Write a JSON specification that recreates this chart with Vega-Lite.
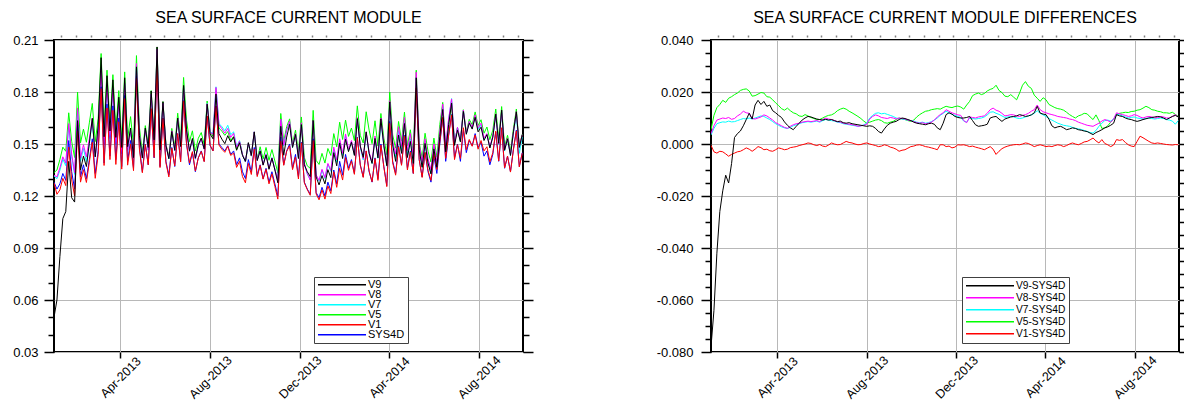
{
"$schema": "https://vega.github.io/schema/vega-lite/v6.json",
"background": "white",
"padding": {"left": 11, "top": 9, "right": 0, "bottom": 0},
"spacing": 120,
"resolve": {"scale": {"color": "independent"}, "legend": {"color": "independent"}},
"config": {
  "font": "Liberation Sans",
  "view": {"stroke": "black", "strokeWidth": 2},
  "axis": {"domain": false, "labelColor": "black", "tickColor": "black", "gridColor": "#b8b8b8", "gridWidth": 1},
  "title": {"fontSize": 16, "fontWeight": "normal", "color": "black", "anchor": "middle", "frame": "group", "offset": 8}
},
"datasets": {"main": [
{"date":"2013-01-01","V9":0.05,"V8":0.132,"V7":0.1315,"V5":0.1335,"V1":0.1275,"SYS4D":0.128,"D9":-0.078,"D8":0.004,"D7":0.0035,"D5":0.0055,"D1":-0.0005},
{"date":"2013-01-05","V9":0.06,"V8":0.131,"V7":0.13,"V5":0.135,"V1":0.121,"SYS4D":0.124,"D9":-0.064,"D8":0.007,"D7":0.006,"D5":0.011,"D1":-0.003},
{"date":"2013-01-09","V9":0.085,"V8":0.1362,"V7":0.1348,"V5":0.141,"V1":0.1235,"SYS4D":0.127,"D9":-0.042,"D8":0.0092,"D7":0.0078,"D5":0.014,"D1":-0.0035},
{"date":"2013-01-13","V9":0.107,"V8":0.1426,"V7":0.1412,"V5":0.1482,"V1":0.1302,"SYS4D":0.133,"D9":-0.026,"D8":0.0096,"D7":0.0082,"D5":0.0152,"D1":-0.0028},
{"date":"2013-01-17","V9":0.111,"V8":0.139,"V7":0.1375,"V5":0.1458,"V1":0.126,"SYS4D":0.129,"D9":-0.018,"D8":0.01,"D7":0.0085,"D5":0.0168,"D1":-0.003},
{"date":"2013-01-21","V9":0.14,"V8":0.1618,"V7":0.1604,"V5":0.168,"V1":0.1482,"SYS4D":0.152,"D9":-0.012,"D8":0.0098,"D7":0.0084,"D5":0.016,"D1":-0.0038},
{"date":"2013-01-25","V9":0.119,"V8":0.1442,"V7":0.1428,"V5":0.1516,"V1":0.1293,"SYS4D":0.134,"D9":-0.015,"D8":0.0102,"D7":0.0088,"D5":0.0176,"D1":-0.0047},
{"date":"2013-01-29","V9":0.1165,"V8":0.1335,"V7":0.1325,"V5":0.1422,"V1":0.12,"SYS4D":0.124,"D9":-0.0075,"D8":0.0095,"D7":0.0085,"D5":0.0182,"D1":-0.004},
{"date":"2013-02-02","V9":0.1635,"V8":0.1708,"V7":0.1696,"V5":0.18,"V1":0.1575,"SYS4D":0.161,"D9":0.0025,"D8":0.0098,"D7":0.0086,"D5":0.019,"D1":-0.0035},
{"date":"2013-02-06","V9":0.135,"V8":0.1418,"V7":0.14,"V5":0.1506,"V1":0.128,"SYS4D":0.131,"D9":0.004,"D8":0.0108,"D7":0.009,"D5":0.0196,"D1":-0.003},
{"date":"2013-02-10","V9":0.143,"V8":0.1495,"V7":0.1474,"V5":0.1586,"V1":0.1352,"SYS4D":0.138,"D9":0.005,"D8":0.0115,"D7":0.0094,"D5":0.0206,"D1":-0.0028},
{"date":"2013-02-14","V9":0.137,"V8":0.1426,"V7":0.1398,"V5":0.151,"V1":0.1278,"SYS4D":0.13,"D9":0.007,"D8":0.0126,"D7":0.0098,"D5":0.021,"D1":-0.0022},
{"date":"2013-02-18","V9":0.1504,"V8":0.153,"V7":0.1506,"V5":0.1622,"V1":0.1395,"SYS4D":0.141,"D9":0.0094,"D8":0.012,"D7":0.0096,"D5":0.0212,"D1":-0.0015},
{"date":"2013-02-22","V9":0.1648,"V8":0.1648,"V7":0.163,"V5":0.1734,"V1":0.151,"SYS4D":0.153,"D9":0.0118,"D8":0.0118,"D7":0.01,"D5":0.0204,"D1":-0.002},
{"date":"2013-02-26","V9":0.1426,"V8":0.1428,"V7":0.1426,"V5":0.1514,"V1":0.1302,"SYS4D":0.133,"D9":0.0096,"D8":0.0098,"D7":0.0096,"D5":0.0184,"D1":-0.0028},
{"date":"2013-03-02","V9":0.161,"V8":0.1556,"V7":0.156,"V5":0.1646,"V1":0.144,"SYS4D":0.146,"D9":0.015,"D8":0.0096,"D7":0.01,"D5":0.0186,"D1":-0.002},
{"date":"2013-03-06","V9":0.1998,"V8":0.193,"V7":0.1934,"V5":0.2022,"V1":0.182,"SYS4D":0.183,"D9":0.0168,"D8":0.01,"D7":0.0104,"D5":0.0192,"D1":-0.001},
{"date":"2013-03-10","V9":0.1542,"V8":0.1494,"V7":0.1498,"V5":0.1588,"V1":0.1376,"SYS4D":0.139,"D9":0.0152,"D8":0.0104,"D7":0.0108,"D5":0.0198,"D1":-0.0014},
{"date":"2013-03-14","V9":0.1894,"V8":0.1842,"V7":0.1836,"V5":0.1926,"V1":0.1708,"SYS4D":0.173,"D9":0.0164,"D8":0.0112,"D7":0.0106,"D5":0.0196,"D1":-0.0022},
{"date":"2013-03-18","V9":0.1575,"V8":0.1538,"V7":0.153,"V5":0.1612,"V1":0.141,"SYS4D":0.143,"D9":0.0145,"D8":0.0108,"D7":0.01,"D5":0.0182,"D1":-0.002},
{"date":"2013-03-22","V9":0.187,"V8":0.182,"V7":0.1814,"V5":0.19,"V1":0.1694,"SYS4D":0.172,"D9":0.015,"D8":0.01,"D7":0.0094,"D5":0.018,"D1":-0.0026},
{"date":"2013-03-26","V9":0.1538,"V8":0.1502,"V7":0.1496,"V5":0.158,"V1":0.1382,"SYS4D":0.141,"D9":0.0128,"D8":0.0092,"D7":0.0086,"D5":0.017,"D1":-0.0028},
{"date":"2013-03-30","V9":0.177,"V8":0.1732,"V7":0.1728,"V5":0.1808,"V1":0.1628,"SYS4D":0.165,"D9":0.012,"D8":0.0082,"D7":0.0078,"D5":0.0158,"D1":-0.0022},
{"date":"2013-04-03","V9":0.148,"V8":0.1446,"V7":0.1442,"V5":0.1518,"V1":0.1355,"SYS4D":0.137,"D9":0.011,"D8":0.0076,"D7":0.0072,"D5":0.0148,"D1":-0.0015},
{"date":"2013-04-07","V9":0.1882,"V8":0.185,"V7":0.1846,"V5":0.1916,"V1":0.1762,"SYS4D":0.178,"D9":0.0102,"D8":0.007,"D7":0.0066,"D5":0.0136,"D1":-0.0018},
{"date":"2013-04-11","V9":0.1485,"V8":0.1464,"V7":0.1462,"V5":0.153,"V1":0.1378,"SYS4D":0.14,"D9":0.0085,"D8":0.0064,"D7":0.0062,"D5":0.013,"D1":-0.0022},
{"date":"2013-04-15","V9":0.1592,"V8":0.158,"V7":0.158,"V5":0.1658,"V1":0.15,"SYS4D":0.152,"D9":0.0072,"D8":0.006,"D7":0.006,"D5":0.0138,"D1":-0.002},
{"date":"2013-04-19","V9":0.1422,"V8":0.1428,"V7":0.1424,"V5":0.1488,"V1":0.1346,"SYS4D":0.136,"D9":0.0062,"D8":0.0068,"D7":0.0064,"D5":0.0128,"D1":-0.0014},
{"date":"2013-04-23","V9":0.1945,"V8":0.1964,"V7":0.196,"V5":0.201,"V1":0.1878,"SYS4D":0.189,"D9":0.0055,"D8":0.0074,"D7":0.007,"D5":0.012,"D1":-0.0012},
{"date":"2013-04-27","V9":0.1548,"V8":0.1558,"V7":0.1554,"V5":0.1596,"V1":0.147,"SYS4D":0.148,"D9":0.0068,"D8":0.0078,"D7":0.0074,"D5":0.0116,"D1":-0.001},
{"date":"2013-05-01","V9":0.142,"V8":0.142,"V7":0.1418,"V5":0.1448,"V1":0.1334,"SYS4D":0.134,"D9":0.008,"D8":0.008,"D7":0.0078,"D5":0.0108,"D1":-0.0006},
{"date":"2013-05-05","V9":0.1592,"V8":0.1584,"V7":0.1582,"V5":0.1606,"V1":0.1497,"SYS4D":0.15,"D9":0.0092,"D8":0.0084,"D7":0.0082,"D5":0.0106,"D1":-0.0003},
{"date":"2013-05-09","V9":0.148,"V8":0.1466,"V7":0.1464,"V5":0.1493,"V1":0.138,"SYS4D":0.138,"D9":0.01,"D8":0.0086,"D7":0.0084,"D5":0.0113,"D1":0},
{"date":"2013-05-13","V9":0.1806,"V8":0.1788,"V7":0.1786,"V5":0.1808,"V1":0.1704,"SYS4D":0.17,"D9":0.0106,"D8":0.0088,"D7":0.0086,"D5":0.0108,"D1":0.0004},
{"date":"2013-05-17","V9":0.1524,"V8":0.1506,"V7":0.1504,"V5":0.1522,"V1":0.1422,"SYS4D":0.142,"D9":0.0104,"D8":0.0086,"D7":0.0084,"D5":0.0102,"D1":0.0002},
{"date":"2013-05-21","V9":0.206,"V8":0.2048,"V7":0.2046,"V5":0.2058,"V1":0.1957,"SYS4D":0.196,"D9":0.01,"D8":0.0088,"D7":0.0086,"D5":0.0098,"D1":-0.0003},
{"date":"2013-05-25","V9":0.1466,"V8":0.146,"V7":0.1458,"V5":0.1464,"V1":0.1364,"SYS4D":0.137,"D9":0.0096,"D8":0.009,"D7":0.0088,"D5":0.0094,"D1":-0.0006},
{"date":"2013-05-29","V9":0.1744,"V8":0.1736,"V7":0.1734,"V5":0.1744,"V1":0.1648,"SYS4D":0.165,"D9":0.0094,"D8":0.0086,"D7":0.0084,"D5":0.0094,"D1":-0.0002},
{"date":"2013-06-02","V9":0.1492,"V8":0.1494,"V7":0.149,"V5":0.15,"V1":0.1392,"SYS4D":0.14,"D9":0.0092,"D8":0.0094,"D7":0.009,"D5":0.01,"D1":-0.0008},
{"date":"2013-06-06","V9":0.1415,"V8":0.142,"V7":0.1414,"V5":0.1426,"V1":0.131,"SYS4D":0.132,"D9":0.0095,"D8":0.01,"D7":0.0094,"D5":0.0106,"D1":-0.001},
{"date":"2013-06-10","V9":0.1572,"V8":0.1576,"V7":0.1572,"V5":0.159,"V1":0.1476,"SYS4D":0.148,"D9":0.0092,"D8":0.0096,"D7":0.0092,"D5":0.011,"D1":-0.0004},
{"date":"2013-06-14","V9":0.1464,"V8":0.1464,"V7":0.146,"V5":0.1482,"V1":0.1374,"SYS4D":0.137,"D9":0.0094,"D8":0.0094,"D7":0.009,"D5":0.0112,"D1":0.0004},
{"date":"2013-06-18","V9":0.165,"V8":0.165,"V7":0.1648,"V5":0.1678,"V1":0.156,"SYS4D":0.156,"D9":0.009,"D8":0.009,"D7":0.0088,"D5":0.0118,"D1":0},
{"date":"2013-06-22","V9":0.1486,"V8":0.1486,"V7":0.1484,"V5":0.1528,"V1":0.1397,"SYS4D":0.14,"D9":0.0086,"D8":0.0086,"D7":0.0084,"D5":0.0128,"D1":-0.0003},
{"date":"2013-06-26","V9":0.1838,"V8":0.1834,"V7":0.1832,"V5":0.1884,"V1":0.1748,"SYS4D":0.175,"D9":0.0088,"D8":0.0084,"D7":0.0082,"D5":0.0134,"D1":-0.0002},
{"date":"2013-06-30","V9":0.1582,"V8":0.158,"V7":0.1578,"V5":0.1638,"V1":0.1504,"SYS4D":0.15,"D9":0.0082,"D8":0.008,"D7":0.0078,"D5":0.0138,"D1":0.0004},
{"date":"2013-07-04","V9":0.146,"V8":0.1458,"V7":0.1456,"V5":0.1514,"V1":0.139,"SYS4D":0.138,"D9":0.008,"D8":0.0078,"D7":0.0076,"D5":0.0134,"D1":0.001},
{"date":"2013-07-08","V9":0.1532,"V8":0.1526,"V7":0.1524,"V5":0.1576,"V1":0.1456,"SYS4D":0.145,"D9":0.0082,"D8":0.0076,"D7":0.0074,"D5":0.0126,"D1":0.0006},
{"date":"2013-07-12","V9":0.1418,"V8":0.1414,"V7":0.1412,"V5":0.146,"V1":0.1344,"SYS4D":0.134,"D9":0.0078,"D8":0.0074,"D7":0.0072,"D5":0.012,"D1":0.0004},
{"date":"2013-07-16","V9":0.1496,"V8":0.1492,"V7":0.149,"V5":0.1533,"V1":0.142,"SYS4D":0.142,"D9":0.0076,"D8":0.0072,"D7":0.007,"D5":0.0113,"D1":0},
{"date":"2013-07-20","V9":0.1534,"V8":0.1528,"V7":0.1528,"V5":0.1566,"V1":0.1457,"SYS4D":0.146,"D9":0.0074,"D8":0.0068,"D7":0.0068,"D5":0.0106,"D1":-0.0003},
{"date":"2013-07-24","V9":0.1472,"V8":0.147,"V7":0.147,"V5":0.1498,"V1":0.1398,"SYS4D":0.14,"D9":0.0072,"D8":0.007,"D7":0.007,"D5":0.0098,"D1":-0.0002},
{"date":"2013-07-28","V9":0.173,"V8":0.1732,"V7":0.1734,"V5":0.1748,"V1":0.1662,"SYS4D":0.166,"D9":0.007,"D8":0.0072,"D7":0.0074,"D5":0.0088,"D1":0.0002},
{"date":"2013-08-01","V9":0.1558,"V8":0.1566,"V7":0.157,"V5":0.157,"V1":0.1494,"SYS4D":0.149,"D9":0.0068,"D8":0.0076,"D7":0.008,"D5":0.008,"D1":0.0004},
{"date":"2013-08-05","V9":0.153,"V8":0.1556,"V7":0.156,"V5":0.1544,"V1":0.146,"SYS4D":0.146,"D9":0.007,"D8":0.0096,"D7":0.01,"D5":0.0084,"D1":0},
{"date":"2013-08-09","V9":0.1788,"V8":0.1826,"V7":0.183,"V5":0.1808,"V1":0.1717,"SYS4D":0.172,"D9":0.0068,"D8":0.0106,"D7":0.011,"D5":0.0088,"D1":-0.0003},
{"date":"2013-08-13","V9":0.156,"V8":0.1612,"V7":0.1618,"V5":0.1592,"V1":0.1494,"SYS4D":0.15,"D9":0.006,"D8":0.0112,"D7":0.0118,"D5":0.0092,"D1":-0.0006},
{"date":"2013-08-17","V9":0.1528,"V8":0.1588,"V7":0.16,"V5":0.1574,"V1":0.147,"SYS4D":0.148,"D9":0.0048,"D8":0.0108,"D7":0.012,"D5":0.0094,"D1":-0.001},
{"date":"2013-08-21","V9":0.1502,"V8":0.1562,"V7":0.1576,"V5":0.155,"V1":0.1452,"SYS4D":0.146,"D9":0.0042,"D8":0.0102,"D7":0.0116,"D5":0.009,"D1":-0.0008},
{"date":"2013-08-25","V9":0.1548,"V8":0.159,"V7":0.1608,"V5":0.1572,"V1":0.1487,"SYS4D":0.149,"D9":0.0058,"D8":0.01,"D7":0.0118,"D5":0.0082,"D1":-0.0003},
{"date":"2013-08-29","V9":0.1512,"V8":0.1538,"V7":0.1554,"V5":0.152,"V1":0.1434,"SYS4D":0.144,"D9":0.0072,"D8":0.0098,"D7":0.0114,"D5":0.008,"D1":-0.0006},
{"date":"2013-09-02","V9":0.154,"V8":0.1562,"V7":0.157,"V5":0.1544,"V1":0.1448,"SYS4D":0.146,"D9":0.008,"D8":0.0102,"D7":0.011,"D5":0.0084,"D1":-0.0012},
{"date":"2013-09-06","V9":0.1464,"V8":0.148,"V7":0.1486,"V5":0.1467,"V1":0.1365,"SYS4D":0.138,"D9":0.0084,"D8":0.01,"D7":0.0106,"D5":0.0087,"D1":-0.0015},
{"date":"2013-09-10","V9":0.1507,"V8":0.1516,"V7":0.152,"V5":0.1514,"V1":0.14,"SYS4D":0.142,"D9":0.0087,"D8":0.0096,"D7":0.01,"D5":0.0094,"D1":-0.002},
{"date":"2013-09-14","V9":0.1434,"V8":0.144,"V7":0.1438,"V5":0.144,"V1":0.1312,"SYS4D":0.134,"D9":0.0094,"D8":0.01,"D7":0.0098,"D5":0.01,"D1":-0.0028},
{"date":"2013-09-18","V9":0.14,"V8":0.1398,"V7":0.1396,"V5":0.1397,"V1":0.1276,"SYS4D":0.13,"D9":0.01,"D8":0.0098,"D7":0.0096,"D5":0.0097,"D1":-0.0024},
{"date":"2013-09-22","V9":0.1508,"V8":0.1506,"V7":0.1504,"V5":0.1504,"V1":0.1388,"SYS4D":0.141,"D9":0.0098,"D8":0.0096,"D7":0.0094,"D5":0.0094,"D1":-0.0022},
{"date":"2013-09-26","V9":0.1434,"V8":0.1432,"V7":0.1432,"V5":0.143,"V1":0.1324,"SYS4D":0.134,"D9":0.0094,"D8":0.0092,"D7":0.0092,"D5":0.009,"D1":-0.0016},
{"date":"2013-09-30","V9":0.157,"V8":0.157,"V7":0.157,"V5":0.1567,"V1":0.147,"SYS4D":0.148,"D9":0.009,"D8":0.009,"D7":0.009,"D5":0.0087,"D1":-0.001},
{"date":"2013-10-04","V9":0.1404,"V8":0.1406,"V7":0.1408,"V5":0.1412,"V1":0.1312,"SYS4D":0.132,"D9":0.0084,"D8":0.0086,"D7":0.0088,"D5":0.0092,"D1":-0.0008},
{"date":"2013-10-08","V9":0.146,"V8":0.1462,"V7":0.1464,"V5":0.1484,"V1":0.1376,"SYS4D":0.138,"D9":0.008,"D8":0.0082,"D7":0.0084,"D5":0.0104,"D1":-0.0004},
{"date":"2013-10-12","V9":0.1378,"V8":0.138,"V7":0.1382,"V5":0.1413,"V1":0.1297,"SYS4D":0.13,"D9":0.0078,"D8":0.008,"D7":0.0082,"D5":0.0113,"D1":-0.0003},
{"date":"2013-10-16","V9":0.1436,"V8":0.1442,"V7":0.1444,"V5":0.148,"V1":0.1354,"SYS4D":0.136,"D9":0.0076,"D8":0.0082,"D7":0.0084,"D5":0.012,"D1":-0.0006},
{"date":"2013-10-20","V9":0.1354,"V8":0.1358,"V7":0.136,"V5":0.1406,"V1":0.127,"SYS4D":0.128,"D9":0.0074,"D8":0.0078,"D7":0.008,"D5":0.0126,"D1":-0.001},
{"date":"2013-10-24","V9":0.1418,"V8":0.142,"V7":0.1422,"V5":0.1468,"V1":0.1328,"SYS4D":0.134,"D9":0.0078,"D8":0.008,"D7":0.0082,"D5":0.0128,"D1":-0.0012},
{"date":"2013-10-28","V9":0.135,"V8":0.1354,"V7":0.1356,"V5":0.1402,"V1":0.1255,"SYS4D":0.127,"D9":0.008,"D8":0.0084,"D7":0.0086,"D5":0.0132,"D1":-0.0015},
{"date":"2013-11-01","V9":0.1276,"V8":0.1292,"V7":0.1292,"V5":0.1334,"V1":0.1182,"SYS4D":0.12,"D9":0.0076,"D8":0.0092,"D7":0.0092,"D5":0.0134,"D1":-0.0018},
{"date":"2013-11-05","V9":0.1602,"V8":0.1644,"V7":0.164,"V5":0.1676,"V1":0.1518,"SYS4D":0.154,"D9":0.0062,"D8":0.0104,"D7":0.01,"D5":0.0136,"D1":-0.0022},
{"date":"2013-11-09","V9":0.1435,"V8":0.1493,"V7":0.149,"V5":0.1514,"V1":0.1377,"SYS4D":0.138,"D9":0.0055,"D8":0.0113,"D7":0.011,"D5":0.0134,"D1":-0.0003},
{"date":"2013-11-13","V9":0.154,"V8":0.158,"V7":0.1578,"V5":0.16,"V1":0.1457,"SYS4D":0.146,"D9":0.008,"D8":0.012,"D7":0.0118,"D5":0.014,"D1":-0.0003},
{"date":"2013-11-17","V9":0.1613,"V8":0.1632,"V7":0.1626,"V5":0.1645,"V1":0.149,"SYS4D":0.15,"D9":0.0113,"D8":0.0132,"D7":0.0126,"D5":0.0145,"D1":-0.001},
{"date":"2013-11-21","V9":0.148,"V8":0.1486,"V7":0.148,"V5":0.1502,"V1":0.1352,"SYS4D":0.136,"D9":0.012,"D8":0.0126,"D7":0.012,"D5":0.0142,"D1":-0.0008},
{"date":"2013-11-25","V9":0.1555,"V8":0.156,"V7":0.1554,"V5":0.158,"V1":0.1425,"SYS4D":0.144,"D9":0.0115,"D8":0.012,"D7":0.0114,"D5":0.014,"D1":-0.0015},
{"date":"2013-11-29","V9":0.1416,"V8":0.1426,"V7":0.142,"V5":0.1454,"V1":0.1298,"SYS4D":0.131,"D9":0.0106,"D8":0.0116,"D7":0.011,"D5":0.0144,"D1":-0.0012},
{"date":"2013-12-03","V9":0.1612,"V8":0.1622,"V7":0.1616,"V5":0.1656,"V1":0.1507,"SYS4D":0.151,"D9":0.0102,"D8":0.0112,"D7":0.0106,"D5":0.0146,"D1":-0.0003},
{"date":"2013-12-07","V9":0.138,"V8":0.139,"V7":0.1382,"V5":0.1422,"V1":0.1276,"SYS4D":0.128,"D9":0.01,"D8":0.011,"D7":0.0102,"D5":0.0142,"D1":-0.0004},
{"date":"2013-12-11","V9":0.134,"V8":0.133,"V7":0.1328,"V5":0.1374,"V1":0.1237,"SYS4D":0.124,"D9":0.01,"D8":0.009,"D7":0.0088,"D5":0.0134,"D1":-0.0003},
{"date":"2013-12-15","V9":0.1312,"V8":0.1292,"V7":0.1294,"V5":0.136,"V1":0.1204,"SYS4D":0.121,"D9":0.0102,"D8":0.0082,"D7":0.0084,"D5":0.015,"D1":-0.0006},
{"date":"2013-12-19","V9":0.1636,"V8":0.1634,"V7":0.163,"V5":0.1694,"V1":0.152,"SYS4D":0.153,"D9":0.0106,"D8":0.0104,"D7":0.01,"D5":0.0164,"D1":-0.001},
{"date":"2013-12-23","V9":0.131,"V8":0.1322,"V7":0.1318,"V5":0.1406,"V1":0.1212,"SYS4D":0.122,"D9":0.009,"D8":0.0102,"D7":0.0098,"D5":0.0186,"D1":-0.0008},
{"date":"2013-12-27","V9":0.1264,"V8":0.129,"V7":0.1286,"V5":0.1382,"V1":0.1178,"SYS4D":0.119,"D9":0.0074,"D8":0.01,"D7":0.0096,"D5":0.0192,"D1":-0.0012},
{"date":"2013-12-31","V9":0.1318,"V8":0.1354,"V7":0.1348,"V5":0.1446,"V1":0.1235,"SYS4D":0.125,"D9":0.0068,"D8":0.0104,"D7":0.0098,"D5":0.0196,"D1":-0.0015},
{"date":"2014-01-04","V9":0.127,"V8":0.1306,"V7":0.13,"V5":0.139,"V1":0.1182,"SYS4D":0.12,"D9":0.007,"D8":0.0106,"D7":0.01,"D5":0.019,"D1":-0.0018},
{"date":"2014-01-08","V9":0.1352,"V8":0.1388,"V7":0.1384,"V5":0.1474,"V1":0.1258,"SYS4D":0.128,"D9":0.0072,"D8":0.0108,"D7":0.0104,"D5":0.0194,"D1":-0.0022},
{"date":"2014-01-12","V9":0.1306,"V8":0.1348,"V7":0.1342,"V5":0.1434,"V1":0.1214,"SYS4D":0.123,"D9":0.0076,"D8":0.0118,"D7":0.0112,"D5":0.0204,"D1":-0.0016},
{"date":"2014-01-16","V9":0.145,"V8":0.1482,"V7":0.1472,"V5":0.156,"V1":0.134,"SYS4D":0.135,"D9":0.01,"D8":0.0132,"D7":0.0122,"D5":0.021,"D1":-0.001},
{"date":"2014-01-20","V9":0.1374,"V8":0.1408,"V7":0.1394,"V5":0.1484,"V1":0.125,"SYS4D":0.127,"D9":0.0104,"D8":0.0138,"D7":0.0124,"D5":0.0214,"D1":-0.002},
{"date":"2014-01-24","V9":0.1506,"V8":0.153,"V7":0.1518,"V5":0.1626,"V1":0.136,"SYS4D":0.14,"D9":0.0106,"D8":0.013,"D7":0.0118,"D5":0.0226,"D1":-0.004},
{"date":"2014-01-28","V9":0.1416,"V8":0.1446,"V7":0.1434,"V5":0.1526,"V1":0.1292,"SYS4D":0.132,"D9":0.0096,"D8":0.0126,"D7":0.0114,"D5":0.0206,"D1":-0.0028},
{"date":"2014-02-01","V9":0.1527,"V8":0.1558,"V7":0.1548,"V5":0.1638,"V1":0.1422,"SYS4D":0.144,"D9":0.0087,"D8":0.0118,"D7":0.0108,"D5":0.0198,"D1":-0.0018},
{"date":"2014-02-05","V9":0.1456,"V8":0.1468,"V7":0.1462,"V5":0.1544,"V1":0.1348,"SYS4D":0.136,"D9":0.0096,"D8":0.0108,"D7":0.0102,"D5":0.0184,"D1":-0.0012},
{"date":"2014-02-09","V9":0.151,"V8":0.152,"V7":0.1514,"V5":0.1592,"V1":0.1402,"SYS4D":0.141,"D9":0.01,"D8":0.011,"D7":0.0104,"D5":0.0182,"D1":-0.0008},
{"date":"2014-02-13","V9":0.1434,"V8":0.1443,"V7":0.1436,"V5":0.152,"V1":0.1325,"SYS4D":0.133,"D9":0.0104,"D8":0.0113,"D7":0.0106,"D5":0.019,"D1":-0.0005},
{"date":"2014-02-17","V9":0.1646,"V8":0.1652,"V7":0.1644,"V5":0.172,"V1":0.1537,"SYS4D":0.154,"D9":0.0106,"D8":0.0112,"D7":0.0104,"D5":0.018,"D1":-0.0003},
{"date":"2014-02-21","V9":0.1488,"V8":0.1488,"V7":0.148,"V5":0.155,"V1":0.1378,"SYS4D":0.138,"D9":0.0108,"D8":0.0108,"D7":0.01,"D5":0.017,"D1":-0.0002},
{"date":"2014-02-25","V9":0.1423,"V8":0.1416,"V7":0.1408,"V5":0.1506,"V1":0.1307,"SYS4D":0.131,"D9":0.0113,"D8":0.0106,"D7":0.0098,"D5":0.0196,"D1":-0.0003},
{"date":"2014-03-01","V9":0.157,"V8":0.157,"V7":0.156,"V5":0.1686,"V1":0.146,"SYS4D":0.146,"D9":0.011,"D8":0.011,"D7":0.01,"D5":0.0226,"D1":0},
{"date":"2014-03-05","V9":0.1446,"V8":0.1453,"V7":0.1444,"V5":0.158,"V1":0.1344,"SYS4D":0.134,"D9":0.0106,"D8":0.0113,"D7":0.0104,"D5":0.024,"D1":0.0004},
{"date":"2014-03-09","V9":0.1388,"V8":0.1398,"V7":0.1388,"V5":0.1502,"V1":0.1282,"SYS4D":0.128,"D9":0.0108,"D8":0.0118,"D7":0.0108,"D5":0.0222,"D1":0.0002},
{"date":"2014-03-13","V9":0.1532,"V8":0.1546,"V7":0.1532,"V5":0.1634,"V1":0.1416,"SYS4D":0.142,"D9":0.0112,"D8":0.0126,"D7":0.0112,"D5":0.0214,"D1":-0.0004},
{"date":"2014-03-17","V9":0.142,"V8":0.1432,"V7":0.1418,"V5":0.1488,"V1":0.129,"SYS4D":0.13,"D9":0.012,"D8":0.0132,"D7":0.0118,"D5":0.0188,"D1":-0.001},
{"date":"2014-03-21","V9":0.1645,"V8":0.165,"V7":0.1628,"V5":0.1676,"V1":0.1494,"SYS4D":0.15,"D9":0.0145,"D8":0.015,"D7":0.0128,"D5":0.0176,"D1":-0.0006},
{"date":"2014-03-25","V9":0.1489,"V8":0.1502,"V7":0.1488,"V5":0.1534,"V1":0.1367,"SYS4D":0.137,"D9":0.0119,"D8":0.0132,"D7":0.0118,"D5":0.0164,"D1":-0.0003},
{"date":"2014-03-29","V9":0.1375,"V8":0.1384,"V7":0.1372,"V5":0.1438,"V1":0.1254,"SYS4D":0.126,"D9":0.0115,"D8":0.0124,"D7":0.0112,"D5":0.0178,"D1":-0.0006},
{"date":"2014-04-02","V9":0.1743,"V8":0.175,"V7":0.1736,"V5":0.18,"V1":0.162,"SYS4D":0.163,"D9":0.0113,"D8":0.012,"D7":0.0106,"D5":0.017,"D1":-0.001},
{"date":"2014-04-06","V9":0.1495,"V8":0.1516,"V7":0.1498,"V5":0.1552,"V1":0.1392,"SYS4D":0.14,"D9":0.0095,"D8":0.0116,"D7":0.0098,"D5":0.0152,"D1":-0.0008},
{"date":"2014-04-10","V9":0.14,"V8":0.1443,"V7":0.1422,"V5":0.1476,"V1":0.132,"SYS4D":0.133,"D9":0.007,"D8":0.0113,"D7":0.0092,"D5":0.0146,"D1":-0.001},
{"date":"2014-04-14","V9":0.1552,"V8":0.16,"V7":0.1576,"V5":0.163,"V1":0.1484,"SYS4D":0.149,"D9":0.0062,"D8":0.011,"D7":0.0086,"D5":0.014,"D1":-0.0006},
{"date":"2014-04-18","V9":0.1446,"V8":0.1486,"V7":0.146,"V5":0.1516,"V1":0.1377,"SYS4D":0.138,"D9":0.0066,"D8":0.0106,"D7":0.008,"D5":0.0136,"D1":-0.0003},
{"date":"2014-04-22","V9":0.1618,"V8":0.1654,"V7":0.1626,"V5":0.1684,"V1":0.1545,"SYS4D":0.155,"D9":0.0068,"D8":0.0104,"D7":0.0076,"D5":0.0134,"D1":-0.0005},
{"date":"2014-04-26","V9":0.1422,"V8":0.1462,"V7":0.1432,"V5":0.149,"V1":0.135,"SYS4D":0.136,"D9":0.0062,"D8":0.0102,"D7":0.0072,"D5":0.013,"D1":-0.001},
{"date":"2014-04-30","V9":0.1515,"V8":0.156,"V7":0.153,"V5":0.1582,"V1":0.1454,"SYS4D":0.146,"D9":0.0055,"D8":0.01,"D7":0.007,"D5":0.0122,"D1":-0.0006},
{"date":"2014-05-04","V9":0.1388,"V8":0.1426,"V7":0.1398,"V5":0.1443,"V1":0.133,"SYS4D":0.133,"D9":0.0058,"D8":0.0096,"D7":0.0068,"D5":0.0113,"D1":0},
{"date":"2014-05-08","V9":0.1882,"V8":0.1914,"V7":0.1884,"V5":0.1926,"V1":0.1824,"SYS4D":0.182,"D9":0.0062,"D8":0.0094,"D7":0.0064,"D5":0.0106,"D1":0.0004},
{"date":"2014-05-12","V9":0.147,"V8":0.15,"V7":0.147,"V5":0.151,"V1":0.141,"SYS4D":0.141,"D9":0.006,"D8":0.009,"D7":0.006,"D5":0.01,"D1":0},
{"date":"2014-05-16","V9":0.1365,"V8":0.1394,"V7":0.1368,"V5":0.1418,"V1":0.1307,"SYS4D":0.131,"D9":0.0055,"D8":0.0084,"D7":0.0058,"D5":0.0108,"D1":-0.0003},
{"date":"2014-05-20","V9":0.1503,"V8":0.153,"V7":0.1506,"V5":0.1562,"V1":0.1452,"SYS4D":0.145,"D9":0.0053,"D8":0.008,"D7":0.0056,"D5":0.0112,"D1":0.0002},
{"date":"2014-05-24","V9":0.139,"V8":0.1416,"V7":0.1392,"V5":0.1458,"V1":0.1348,"SYS4D":0.134,"D9":0.005,"D8":0.0076,"D7":0.0052,"D5":0.0118,"D1":0.0008},
{"date":"2014-05-28","V9":0.1328,"V8":0.1352,"V7":0.1328,"V5":0.1396,"V1":0.129,"SYS4D":0.128,"D9":0.0048,"D8":0.0072,"D7":0.0048,"D5":0.0116,"D1":0.001},
{"date":"2014-06-01","V9":0.1472,"V8":0.15,"V7":0.1474,"V5":0.1534,"V1":0.1446,"SYS4D":0.143,"D9":0.0042,"D8":0.007,"D7":0.0044,"D5":0.0104,"D1":0.0016},
{"date":"2014-06-05","V9":0.1366,"V8":0.1398,"V7":0.1372,"V5":0.1424,"V1":0.1353,"SYS4D":0.133,"D9":0.0036,"D8":0.0068,"D7":0.0042,"D5":0.0094,"D1":0.0023},
{"date":"2014-06-09","V9":0.1544,"V8":0.1574,"V7":0.1552,"V5":0.1612,"V1":0.1512,"SYS4D":0.15,"D9":0.0044,"D8":0.0074,"D7":0.0052,"D5":0.0112,"D1":0.0012},
{"date":"2014-06-13","V9":0.1699,"V8":0.173,"V7":0.1718,"V5":0.174,"V1":0.1654,"SYS4D":0.165,"D9":0.0049,"D8":0.008,"D7":0.0068,"D5":0.009,"D1":0.0004},
{"date":"2014-06-17","V9":0.1455,"V8":0.1488,"V7":0.148,"V5":0.146,"V1":0.1417,"SYS4D":0.14,"D9":0.0055,"D8":0.0088,"D7":0.008,"D5":0.006,"D1":0.0017},
{"date":"2014-06-21","V9":0.1612,"V8":0.1644,"V7":0.164,"V5":0.1612,"V1":0.1552,"SYS4D":0.155,"D9":0.0062,"D8":0.0094,"D7":0.009,"D5":0.0062,"D1":0.0002},
{"date":"2014-06-25","V9":0.1736,"V8":0.176,"V7":0.1762,"V5":0.174,"V1":0.1667,"SYS4D":0.167,"D9":0.0066,"D8":0.009,"D7":0.0092,"D5":0.007,"D1":-0.0003},
{"date":"2014-06-29","V9":0.1492,"V8":0.1504,"V7":0.1508,"V5":0.1504,"V1":0.141,"SYS4D":0.142,"D9":0.0072,"D8":0.0084,"D7":0.0088,"D5":0.0084,"D1":-0.001},
{"date":"2014-07-03","V9":0.158,"V8":0.1596,"V7":0.1596,"V5":0.1596,"V1":0.1496,"SYS4D":0.15,"D9":0.008,"D8":0.0096,"D7":0.0096,"D5":0.0096,"D1":-0.0004},
{"date":"2014-07-07","V9":0.1513,"V8":0.152,"V7":0.1516,"V5":0.1513,"V1":0.1417,"SYS4D":0.14,"D9":0.0113,"D8":0.012,"D7":0.0116,"D5":0.0113,"D1":0.0017},
{"date":"2014-07-11","V9":0.1688,"V8":0.1696,"V7":0.1692,"V5":0.1698,"V1":0.1594,"SYS4D":0.158,"D9":0.0108,"D8":0.0116,"D7":0.0112,"D5":0.0118,"D1":0.0014},
{"date":"2014-07-15","V9":0.1556,"V8":0.1563,"V7":0.1558,"V5":0.157,"V1":0.1467,"SYS4D":0.145,"D9":0.0106,"D8":0.0113,"D7":0.0108,"D5":0.012,"D1":0.0017},
{"date":"2014-07-19","V9":0.162,"V8":0.163,"V7":0.1624,"V5":0.1642,"V1":0.1526,"SYS4D":0.152,"D9":0.01,"D8":0.011,"D7":0.0104,"D5":0.0122,"D1":0.0006},
{"date":"2014-07-23","V9":0.1586,"V8":0.1596,"V7":0.159,"V5":0.1611,"V1":0.1487,"SYS4D":0.149,"D9":0.0096,"D8":0.0106,"D7":0.01,"D5":0.0121,"D1":-0.0003},
{"date":"2014-07-27","V9":0.1654,"V8":0.1668,"V7":0.1662,"V5":0.1685,"V1":0.1552,"SYS4D":0.156,"D9":0.0094,"D8":0.0108,"D7":0.0102,"D5":0.0125,"D1":-0.0008},
{"date":"2014-07-31","V9":0.157,"V8":0.1593,"V7":0.1584,"V5":0.1606,"V1":0.147,"SYS4D":0.148,"D9":0.009,"D8":0.0113,"D7":0.0104,"D5":0.0126,"D1":-0.001},
{"date":"2014-08-04","V9":0.1597,"V8":0.162,"V7":0.161,"V5":0.164,"V1":0.152,"SYS4D":0.151,"D9":0.0087,"D8":0.011,"D7":0.01,"D5":0.013,"D1":0.001},
{"date":"2014-08-08","V9":0.152,"V8":0.1534,"V7":0.1528,"V5":0.1562,"V1":0.146,"SYS4D":0.143,"D9":0.009,"D8":0.0104,"D7":0.0098,"D5":0.0132,"D1":0.003},
{"date":"2014-08-12","V9":0.1554,"V8":0.156,"V7":0.1556,"V5":0.1598,"V1":0.1484,"SYS4D":0.146,"D9":0.0094,"D8":0.01,"D7":0.0096,"D5":0.0138,"D1":0.0024},
{"date":"2014-08-16","V9":0.1477,"V8":0.1484,"V7":0.1478,"V5":0.1525,"V1":0.1397,"SYS4D":0.138,"D9":0.0097,"D8":0.0104,"D7":0.0098,"D5":0.0145,"D1":0.0017},
{"date":"2014-08-20","V9":0.154,"V8":0.1546,"V7":0.154,"V5":0.158,"V1":0.145,"SYS4D":0.144,"D9":0.01,"D8":0.0106,"D7":0.01,"D5":0.014,"D1":0.001},
{"date":"2014-08-24","V9":0.1672,"V8":0.1674,"V7":0.1668,"V5":0.1702,"V1":0.1574,"SYS4D":0.157,"D9":0.0102,"D8":0.0104,"D7":0.0098,"D5":0.0132,"D1":0.0004},
{"date":"2014-08-28","V9":0.1504,"V8":0.15,"V7":0.1496,"V5":0.153,"V1":0.1402,"SYS4D":0.14,"D9":0.0104,"D8":0.01,"D7":0.0096,"D5":0.013,"D1":0.0002},
{"date":"2014-09-01","V9":0.1696,"V8":0.1692,"V7":0.1688,"V5":0.1716,"V1":0.1594,"SYS4D":0.159,"D9":0.0106,"D8":0.0102,"D7":0.0098,"D5":0.0126,"D1":0.0004},
{"date":"2014-09-05","V9":0.1464,"V8":0.1466,"V7":0.146,"V5":0.1484,"V1":0.1362,"SYS4D":0.136,"D9":0.0104,"D8":0.0106,"D7":0.01,"D5":0.0124,"D1":0.0002},
{"date":"2014-09-09","V9":0.153,"V8":0.1534,"V7":0.1528,"V5":0.155,"V1":0.143,"SYS4D":0.143,"D9":0.01,"D8":0.0104,"D7":0.0098,"D5":0.012,"D1":0},
{"date":"2014-09-13","V9":0.1434,"V8":0.144,"V7":0.1434,"V5":0.146,"V1":0.1338,"SYS4D":0.134,"D9":0.0094,"D8":0.01,"D7":0.0094,"D5":0.012,"D1":-0.0002},
{"date":"2014-09-17","V9":0.157,"V8":0.157,"V7":0.1562,"V5":0.1588,"V1":0.1467,"SYS4D":0.147,"D9":0.01,"D8":0.01,"D7":0.0092,"D5":0.0118,"D1":-0.0003},
{"date":"2014-09-21","V9":0.1686,"V8":0.1686,"V7":0.1668,"V5":0.1702,"V1":0.1576,"SYS4D":0.158,"D9":0.0106,"D8":0.0106,"D7":0.0088,"D5":0.0122,"D1":-0.0004},
{"date":"2014-09-25","V9":0.148,"V8":0.1483,"V7":0.1446,"V5":0.1484,"V1":0.1368,"SYS4D":0.137,"D9":0.011,"D8":0.0113,"D7":0.0076,"D5":0.0114,"D1":-0.0002},
{"date":"2014-09-29","V9":0.1554,"V8":0.1554,"V7":0.154,"V5":0.1556,"V1":0.1447,"SYS4D":0.145,"D9":0.0104,"D8":0.0104,"D7":0.009,"D5":0.0106,"D1":-0.0003}
]},
"hconcat": [
{
  "width": 469, "height": 312,
  "title": {"text": "SEA SURFACE CURRENT MODULE"},
  "data": {"name": "main"},
  "transform": [{"fold": ["V5","V7","V8","SYS4D","V1","V9"], "as": ["series","value"]}],
  "layer": [
    {
      "mark": {"type": "line", "strokeWidth": 1, "clip": true},
      "encoding": {
        "x": {"field": "date", "type": "temporal",
          "scale": {"type": "utc", "domain": [{"year":2013,"month":1,"date":1,"utc":true},{"year":2014,"month":9,"date":30,"utc":true}]},
          "axis": {"title": null, "values": [{"year":2013,"month":4,"date":1,"utc":true},{"year":2013,"month":8,"date":1,"utc":true},{"year":2013,"month":12,"date":1,"utc":true},{"year":2014,"month":4,"date":1,"utc":true},{"year":2014,"month":8,"date":1,"utc":true}],
            "format": "%b-%Y", "labelAngle": -45, "labelAlign": "center", "labelBaseline": "middle", "labelPadding": 19, "labelFontSize": 12.5,
            "tickSize": 6, "tickWidth": 1.5, "grid": true, "domain": false}},
        "y": {"field": "value", "type": "quantitative",
          "scale": {"domain": [0.03, 0.21], "nice": false, "zero": false},
          "axis": {"title": null, "values": [0.03,0.04,0.05,0.06,0.07,0.08,0.09,0.1,0.11,0.12,0.13,0.14,0.15,0.16,0.17,0.18,0.19,0.2,0.21],
            "labelExpr": "abs(round(datum.value*100)) % 3 == 0 ? format(datum.value, '.2f') : ''",
            "tickSize": {"condition": {"test": "abs(round(datum.value*100)) % 3 == 0", "value": 10}, "value": 6},
            "gridOpacity": {"condition": {"test": "abs(round(datum.value*100)) % 3 == 0", "value": 1}, "value": 0},
            "tickWidth": 1.5, "grid": true, "labelFontSize": 13, "labelPadding": 6, "domain": false}},
        "color": {"field": "series", "type": "nominal",
          "scale": {"domain": ["V9","V8","V7","V5","V1","SYS4D"], "range": ["#000000","#ff00ff","#00ffff","#00ff00","#ff0000","#0000ff"]},
          "legend": {"title": null, "orient": "none", "legendX": 260, "legendY": 237, "symbolType": "stroke", "symbolSize": 2304, "symbolStrokeWidth": 1.5,
            "clipHeight": 9.6, "rowPadding": -2.2,
            "labelFontSize": 11, "labelColor": "black", "padding": 3, "strokeColor": "#404040", "fillColor": "white", "labelOffset": 1}}
      }
    },
    {
      "mark": {"type": "line", "opacity": 0},
      "encoding": {
        "x": {"field": "date", "type": "temporal",
          "scale": {"type": "utc", "domain": [{"year":2013,"month":1,"date":1,"utc":true},{"year":2014,"month":9,"date":30,"utc":true}]},
          "axis": {"orient": "top", "title": null, "labels": false, "grid": false, "domain": false, "tickSize": 2, "tickWidth": 1.5, "tickColor": "#808080", "offset": 3,
            "values": [1357862400000,1359590400000,1361318400000,1363046400000,1364774400000,1366502400000,1368230400000,1369958400000,1371686400000,1373414400000,1375142400000,1376870400000,1378598400000,1380326400000,1382054400000,1383782400000,1385510400000,1387238400000,1388966400000,1390694400000,1392422400000,1394150400000,1395878400000,1397606400000,1399334400000,1401062400000,1402790400000,1404518400000,1406246400000,1407974400000,1409702400000,1411430400000]}},
        "y": {"field": "value", "type": "quantitative",
          "scale": {"domain": [0.03, 0.21], "nice": false, "zero": false},
          "axis": {"orient": "right", "title": null, "labels": false, "grid": false, "domain": false, "tickWidth": 1.5,
            "values": [0.03,0.04,0.05,0.06,0.07,0.08,0.09,0.1,0.11,0.12,0.13,0.14,0.15,0.16,0.17,0.18,0.19,0.2,0.21],
            "tickSize": {"condition": {"test": "abs(round(datum.value*100)) % 3 == 0", "value": 10}, "value": 6}}},
        "detail": {"field": "series"}
      }
    }
  ],
  "resolve": {"axis": {"x": "independent", "y": "independent"}}
},
{
  "width": 468, "height": 312,
  "title": {"text": "SEA SURFACE CURRENT MODULE DIFFERENCES"},
  "data": {"name": "main"},
  "transform": [{"fold": ["D5","D7","D8","D1","D9"], "as": ["series","value"]}],
  "layer": [
    {
      "mark": {"type": "line", "strokeWidth": 1, "clip": true},
      "encoding": {
        "x": {"field": "date", "type": "temporal",
          "scale": {"type": "utc", "domain": [{"year":2013,"month":1,"date":1,"utc":true},{"year":2014,"month":9,"date":30,"utc":true}]},
          "axis": {"title": null, "values": [{"year":2013,"month":4,"date":1,"utc":true},{"year":2013,"month":8,"date":1,"utc":true},{"year":2013,"month":12,"date":1,"utc":true},{"year":2014,"month":4,"date":1,"utc":true},{"year":2014,"month":8,"date":1,"utc":true}],
            "format": "%b-%Y", "labelAngle": -45, "labelAlign": "center", "labelBaseline": "middle", "labelPadding": 19, "labelFontSize": 12.5,
            "tickSize": 6, "tickWidth": 1.5, "grid": true, "domain": false}},
        "y": {"field": "value", "type": "quantitative",
          "scale": {"domain": [-0.08, 0.04], "nice": false, "zero": false},
          "axis": {"title": null, "values": [-0.08,-0.075,-0.07,-0.065,-0.06,-0.055,-0.05,-0.045,-0.04,-0.035,-0.03,-0.025,-0.02,-0.015,-0.01,-0.005,0,0.005,0.01,0.015,0.02,0.025,0.03,0.035,0.04],
            "labelExpr": "abs(round(datum.value*200)) % 4 == 0 ? replace(format(datum.value, '.3f'), '\u2212', '-') : ''",
            "tickSize": {"condition": {"test": "abs(round(datum.value*200)) % 4 == 0", "value": 10}, "value": 6},
            "gridOpacity": {"condition": {"test": "abs(round(datum.value*200)) % 4 == 0", "value": 1}, "value": 0},
            "tickWidth": 1.5, "grid": true, "labelFontSize": 13, "labelPadding": 8, "domain": false}},
        "color": {"field": "series", "type": "nominal",
          "scale": {"domain": ["D9","D8","D7","D5","D1"], "range": ["#000000","#ff00ff","#00ffff","#00ff00","#ff0000"]},
          "legend": {"title": null, "orient": "none", "legendX": 251, "legendY": 237, "symbolType": "stroke", "symbolSize": 2304, "symbolStrokeWidth": 1.5,
            "clipHeight": 11.5, "rowPadding": 0,
            "labelExpr": "replace(datum.label, 'D', 'V') + '-SYS4D'",
            "labelFontSize": 10.2, "labelColor": "black", "padding": 3, "strokeColor": "#404040", "fillColor": "white", "labelOffset": 1}}
      }
    },
    {
      "mark": {"type": "line", "opacity": 0},
      "encoding": {
        "x": {"field": "date", "type": "temporal",
          "scale": {"type": "utc", "domain": [{"year":2013,"month":1,"date":1,"utc":true},{"year":2014,"month":9,"date":30,"utc":true}]},
          "axis": {"orient": "top", "title": null, "labels": false, "grid": false, "domain": false, "tickSize": 2, "tickWidth": 1.5, "tickColor": "#808080", "offset": 3,
            "values": [1357862400000,1359590400000,1361318400000,1363046400000,1364774400000,1366502400000,1368230400000,1369958400000,1371686400000,1373414400000,1375142400000,1376870400000,1378598400000,1380326400000,1382054400000,1383782400000,1385510400000,1387238400000,1388966400000,1390694400000,1392422400000,1394150400000,1395878400000,1397606400000,1399334400000,1401062400000,1402790400000,1404518400000,1406246400000,1407974400000,1409702400000,1411430400000]}},
        "y": {"field": "value", "type": "quantitative",
          "scale": {"domain": [-0.08, 0.04], "nice": false, "zero": false},
          "axis": {"orient": "right", "title": null, "labels": false, "grid": false, "domain": false, "tickWidth": 1.5,
            "values": [-0.08,-0.075,-0.07,-0.065,-0.06,-0.055,-0.05,-0.045,-0.04,-0.035,-0.03,-0.025,-0.02,-0.015,-0.01,-0.005,0,0.005,0.01,0.015,0.02,0.025,0.03,0.035,0.04],
            "tickSize": {"condition": {"test": "abs(round(datum.value*200)) % 4 == 0", "value": 10}, "value": 6}}},
        "detail": {"field": "series"}
      }
    }
  ],
  "resolve": {"axis": {"x": "independent", "y": "independent"}}
}
]
}
